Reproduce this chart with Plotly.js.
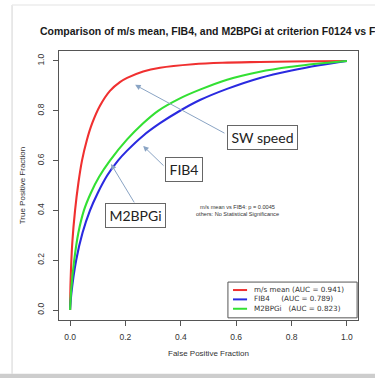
<!DOCTYPE html>
<html><head><meta charset="utf-8">
<script src="https://cdn.plot.ly/plotly-3.0.1.min.js"></script>
<style>html,body{margin:0;padding:0;background:#fff}#chart{width:375px;height:378px}</style>
</head><body><div id="chart"></div>
<script>
// ---- data ----
const seriesNames = ["m/s mean", "FIB4", "M2BPGi"];
const aucValues = ["0.941", "0.789", "0.823"];
const legendGaps = ["\u00a0", "\u00a0\u00a0\u00a0\u00a0\u00a0", "\u00a0\u00a0\u00a0"];
const seriesColors = ["#f03030", "#2a2ae0", "#33e033"];

const redX = [0, 0.002, 0.008, 0.018, 0.03, 0.043, 0.06, 0.08, 0.108, 0.144, 0.18, 0.206, 0.264, 0.325, 0.444, 0.55, 0.686, 0.8, 0.9, 1];
const redY = [0, 0.12, 0.27, 0.40, 0.51, 0.60, 0.68, 0.75, 0.82, 0.88, 0.915, 0.932, 0.958, 0.973, 0.987, 0.993, 0.996, 0.998, 0.999, 1];

const blueX = [0, 0.005, 0.022, 0.045, 0.072, 0.1, 0.134, 0.173, 0.206, 0.264, 0.325, 0.397, 0.469, 0.567, 0.686, 0.8, 0.9, 1];
const blueY = [0, 0.07, 0.20, 0.31, 0.40, 0.47, 0.54, 0.60, 0.64, 0.70, 0.75, 0.80, 0.843, 0.888, 0.932, 0.962, 0.983, 1];

const greenX = [0, 0.004, 0.015, 0.03, 0.05, 0.075, 0.105, 0.144, 0.206, 0.264, 0.318, 0.397, 0.469, 0.567, 0.686, 0.8, 0.9, 1];
const greenY = [0, 0.08, 0.20, 0.31, 0.40, 0.47, 0.535, 0.60, 0.685, 0.75, 0.80, 0.85, 0.885, 0.925, 0.957, 0.977, 0.99, 1];

const tickVals = [0, 0.2, 0.4, 0.6, 0.8, 1.0];
const tickText = ["0.0", "0.2", "0.4", "0.6", "0.8", "1.0"];

const titleText = "Comparison of m/s mean, FIB4, and M2BPGi at criterion F0124 vs F4";
const xTitle = "False Positive Fraction";
const yTitle = "True Positive Fraction";
const statLines = ["m/s mean vs FIB4: p = 0.0045", "others: No Statistical Significance"];

// callout labels: text, box centre, arrow tail, arrow head (data units)
const calloutText = ["SW speed", "FIB4", "M2BPGi"];
const calloutBoxX = [0.695, 0.412, 0.236];
const calloutBoxY = [0.693, 0.564, 0.378];
const calloutBoxW = [69, 36, 59];
const calloutTailX = [0.563, 0.343, 0.235];
const calloutTailY = [0.707, 0.574, 0.426];
const calloutHeadX = [0.235, 0.264, 0.148];
const calloutHeadY = [0.904, 0.659, 0.586];

// ---- build ----
const xs = [redX, blueX, greenX], ys = [redY, blueY, greenY];
const traces = seriesNames.map((n, i) => ({
  type: "scatter", mode: "lines", name: n, x: xs[i], y: ys[i],
  line: {color: seriesColors[i], width: 2.1, shape: "spline", smoothing: 1},
  showlegend: false, hoverinfo: "skip"
}));

const ann = [];
const shapes = [];
// stats text
ann.push({x: 0.603, y: 0.398, xref: "x", yref: "y", showarrow: false,
  text: statLines.join("<br>"), font: {family: "Liberation Sans, Arial", size: 5.6, color: "#333"}, align: "center"});
// callouts
calloutText.forEach((t, i) => {
  ann.push({x: calloutHeadX[i], y: calloutHeadY[i], ax: calloutTailX[i], ay: calloutTailY[i],
    axref: "x", ayref: "y", xref: "x", yref: "y", text: "", showarrow: true,
    arrowhead: 2, arrowsize: 1.1, arrowwidth: 1, arrowcolor: "#8aa4c4", standoff: 0, startstandoff: 0});
  ann.push({x: calloutBoxX[i], y: calloutBoxY[i], xref: "x", yref: "y", showarrow: false,
    text: t, font: {family: "Lato, Carlito, sans-serif", size: 14, color: "#222"},
    bgcolor: "#fff", bordercolor: "#666", borderwidth: 1, borderpad: 0,
    width: calloutBoxW[i], height: 23});
});
// legend (manual, R style)
const plotH = 378 - 51 - 58;
const legFont = 7.2;
const legLineH = legFont * 1.3;
const legMidPx = 299.4;
shapes.push({type: "rect", xref: "paper", yref: "paper", x0: 0.565, x1: 0.997, y0: 0.008, y1: 0.141,
  line: {color: "#555", width: 1}, fillcolor: "#fff", layer: "above"});
seriesNames.forEach((n, i) => {
  const py = legMidPx + (i - 1) * legLineH;
  const yp = (320 - py) / plotH;
  shapes.push({type: "line", xref: "paper", yref: "paper", x0: 0.582, x1: 0.629, y0: yp, y1: yp,
    line: {color: seriesColors[i], width: 2}, layer: "above"});
});
ann.push({x: 0.645, y: (320 - legMidPx) / plotH, xref: "paper", yref: "paper", xanchor: "left", yanchor: "middle",
  showarrow: false, align: "left",
  text: seriesNames.map((n, i) => n + legendGaps[i] + "(AUC = " + aucValues[i] + ")").join("<br>"),
  font: {family: "DejaVu Sans, sans-serif", size: legFont, color: "#333"}});
// outer frame
shapes.push({type: "line", xref: "paper", yref: "paper", x0: -0.157, x1: -0.157, y0: 1.171, y1: -0.2,
  line: {color: "#e2e2e2", width: 1.5}, layer: "below"});
shapes.push({type: "line", xref: "paper", yref: "paper", x0: -0.157, x1: 1.2, y0: 1.171, y1: 1.171,
  line: {color: "#ececec", width: 1.5}, layer: "below"});
shapes.push({type: "rect", xref: "paper", yref: "paper", x0: -0.25, x1: 1.2, y0: -0.2, y1: -0.25,
  line: {width: 0}, fillcolor: "#cdcdcd", layer: "below"});

const axisCommon = {
  range: [-0.04, 1.04], showgrid: false, zeroline: false, showline: true, mirror: true,
  linecolor: "#555", linewidth: 1, ticks: "outside", ticklen: 5, tickcolor: "#555", tickwidth: 1,
  tickvals: tickVals, ticktext: tickText, fixedrange: true,
  tickfont: {family: "Liberation Sans, Arial", size: 8.5, color: "#333"}
};

const layout = {
  width: 375, height: 378,
  margin: {l: 59, r: 17, t: 51, b: 58},
  paper_bgcolor: "#fff", plot_bgcolor: "#fff",
  title: {text: "<b>" + titleText + "</b>", xref: "container", yref: "container",
    x: 40 / 375, xanchor: "left", y: 1 - 31 / 378, yanchor: "middle",
    font: {family: "Liberation Sans, Arial", size: 10.5, color: "#1a1a1a"}},
  xaxis: Object.assign({}, axisCommon, {
    title: {text: xTitle, standoff: 9, font: {family: "Liberation Sans, Arial", size: 8, color: "#333"}},
    ticklabelstandoff: 4}),
  yaxis: Object.assign({}, axisCommon, {
    tickangle: -90, ticklabelstandoff: 6,
    title: {text: yTitle, standoff: 8, font: {family: "Liberation Sans, Arial", size: 8, color: "#333"}}}),
  annotations: ann, shapes: shapes, showlegend: false
};

Plotly.newPlot("chart", traces, layout, {displayModeBar: false, staticPlot: true});
</script></body></html>
